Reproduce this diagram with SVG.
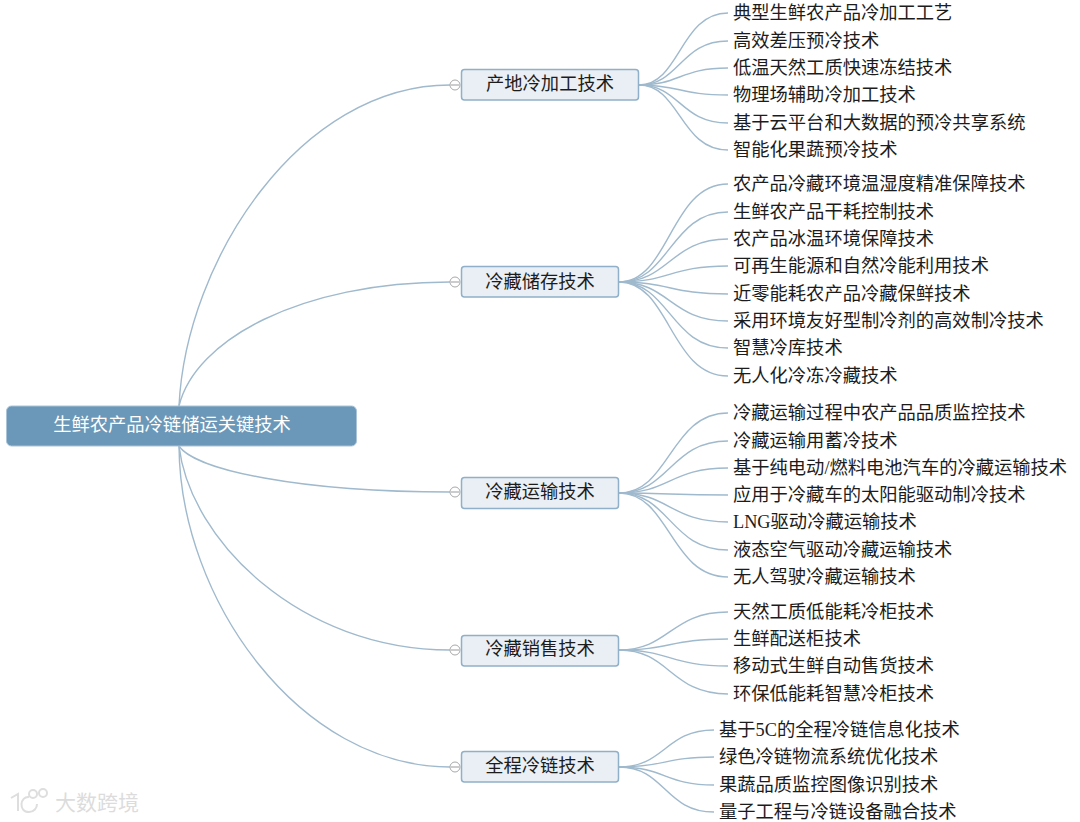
<svg xmlns="http://www.w3.org/2000/svg" width="1080" height="822" viewBox="0 0 1080 822">
<defs>
<style>
text{font-family:"Liberation Serif","Noto Sans CJK SC",serif;font-size:18.3px;fill:#1c1c1c}
.c path{fill:none;stroke:#9fb9cd;stroke-width:1.4}
.t{fill:#e9eff4;stroke:#8fb0c8;stroke-width:1.5}
.m{fill:#fff;stroke:#a8a8a8;stroke-width:1}
.mm{stroke:#999;stroke-width:1}
.n{text-anchor:middle}
</style>
</defs>
<rect width="1080" height="822" fill="#fff"/>
<g id="connectors" class="c">
<path d="M179 406C186 260 300 85 450 85"/>
<path d="M179 406C195 340 300 282 450 282"/>
<path d="M179 446C195 470 300 492 450 492"/>
<path d="M179 446C190 540 300 650 450 650"/>
<path d="M179 446C180 600 300 767 450 767"/>
<path d="M639 85C680 85 680 13 728 13"/>
<path d="M639 85C680 85 680 41 728 41"/>
<path d="M639 85C680 85 680 68 728 68"/>
<path d="M639 85C680 85 680 95 728 95"/>
<path d="M639 85C680 85 680 123 728 123"/>
<path d="M639 85C680 85 680 150 728 150"/>
<path d="M619 282C670 282 670 184 728 184"/>
<path d="M619 282C670 282 670 212 728 212"/>
<path d="M619 282C670 282 670 239 728 239"/>
<path d="M619 282C670 282 670 266 728 266"/>
<path d="M619 282C670 282 670 294 728 294"/>
<path d="M619 282C670 282 670 321 728 321"/>
<path d="M619 282C670 282 670 348 728 348"/>
<path d="M619 282C670 282 670 376 728 376"/>
<path d="M619 493C670 493 670 413 728 413"/>
<path d="M619 493C670 493 670 441 728 441"/>
<path d="M619 493C670 493 670 468 728 468"/>
<path d="M619 493C670 493 670 495 728 495"/>
<path d="M619 493C670 493 670 522 728 522"/>
<path d="M619 493C670 493 670 550 728 550"/>
<path d="M619 493C670 493 670 577 728 577"/>
<path d="M619 650C670 650 670 612 728 612"/>
<path d="M619 650C670 650 670 639 728 639"/>
<path d="M619 650C670 650 670 666 728 666"/>
<path d="M619 650C670 650 670 694 728 694"/>
<path d="M619 767C665 767 665 730 714 730"/>
<path d="M619 767C665 767 665 757 714 757"/>
<path d="M619 767C665 767 665 785 714 785"/>
<path d="M619 767C665 767 665 812 714 812"/>
</g>
<g id="root"><rect x="6.500" y="406" width="350" height="40" rx="5" fill="#6b98b8" stroke="#a9c4d8"/><text class="n" x="172" y="431" style="fill:#fff">生鲜农产品冷链储运关键技术</text></g>
<g id="n1"><circle class="m" cx="455" cy="85" r="5"/><path class="mm" d="M451 85H459"/><rect class="t" x="461.500" y="69.500" width="177" height="30.500" rx="3"/><text class="n" x="550" y="90">产地冷加工技术</text></g>
<g id="n2"><circle class="m" cx="455" cy="282" r="5"/><path class="mm" d="M451 282H459"/><rect class="t" x="461.500" y="266.500" width="157" height="30.500" rx="3"/><text class="n" x="540" y="288">冷藏储存技术</text></g>
<g id="n3"><circle class="m" cx="455" cy="492" r="5"/><path class="mm" d="M451 492H459"/><rect class="t" x="461.500" y="477.500" width="157" height="31" rx="3"/><text class="n" x="540" y="498">冷藏运输技术</text></g>
<g id="n4"><circle class="m" cx="455" cy="650" r="5"/><path class="mm" d="M451 650H459"/><rect class="t" x="461.500" y="635.500" width="157" height="30.500" rx="3"/><text class="n" x="540" y="655">冷藏销售技术</text></g>
<g id="n5"><circle class="m" cx="455" cy="767" r="5"/><path class="mm" d="M451 767H459"/><rect class="t" x="461.500" y="751.500" width="157" height="30.500" rx="3"/><text class="n" x="540" y="772">全程冷链技术</text></g>
<g id="leaves">
<text x="733" y="19">典型生鲜农产品冷加工工艺</text>
<text x="733" y="47">高效差压预冷技术</text>
<text x="733" y="74">低温天然工质快速冻结技术</text>
<text x="733" y="101">物理场辅助冷加工技术</text>
<text x="733" y="129">基于云平台和大数据的预冷共享系统</text>
<text x="733" y="156">智能化果蔬预冷技术</text>
<text x="733" y="190">农产品冷藏环境温湿度精准保障技术</text>
<text x="733" y="218">生鲜农产品干耗控制技术</text>
<text x="733" y="245">农产品冰温环境保障技术</text>
<text x="733" y="272">可再生能源和自然冷能利用技术</text>
<text x="733" y="300">近零能耗农产品冷藏保鲜技术</text>
<text x="733" y="327">采用环境友好型制冷剂的高效制冷技术</text>
<text x="733" y="354">智慧冷库技术</text>
<text x="733" y="382">无人化冷冻冷藏技术</text>
<text x="733" y="419">冷藏运输过程中农产品品质监控技术</text>
<text x="733" y="447">冷藏运输用蓄冷技术</text>
<text x="733" y="474">基于纯电动/燃料电池汽车的冷藏运输技术</text>
<text x="733" y="501">应用于冷藏车的太阳能驱动制冷技术</text>
<text x="733" y="528">LNG驱动冷藏运输技术</text>
<text x="733" y="556">液态空气驱动冷藏运输技术</text>
<text x="733" y="583">无人驾驶冷藏运输技术</text>
<text x="733" y="618">天然工质低能耗冷柜技术</text>
<text x="733" y="645">生鲜配送柜技术</text>
<text x="733" y="672">移动式生鲜自动售货技术</text>
<text x="733" y="700">环保低能耗智慧冷柜技术</text>
<text x="719" y="736">基于5C的全程冷链信息化技术</text>
<text x="719" y="763">绿色冷链物流系统优化技术</text>
<text x="719" y="791">果蔬品质监控图像识别技术</text>
<text x="719" y="818">量子工程与冷链设备融合技术</text>
</g>
<g id="watermark" fill="none" stroke="#dedede" stroke-width="2"><path d="M11 798L18 794V811M29 797C20 796 18 812 29 812C34 812 37 808 37 804"/><circle cx="33" cy="794" r="4"/><circle cx="43" cy="793" r="4"/><text x="55" y="810" style="fill:#dcdcdc;stroke:none;font-family:'Noto Sans CJK SC',sans-serif;font-size:21px">大数跨境</text></g>
</svg>
